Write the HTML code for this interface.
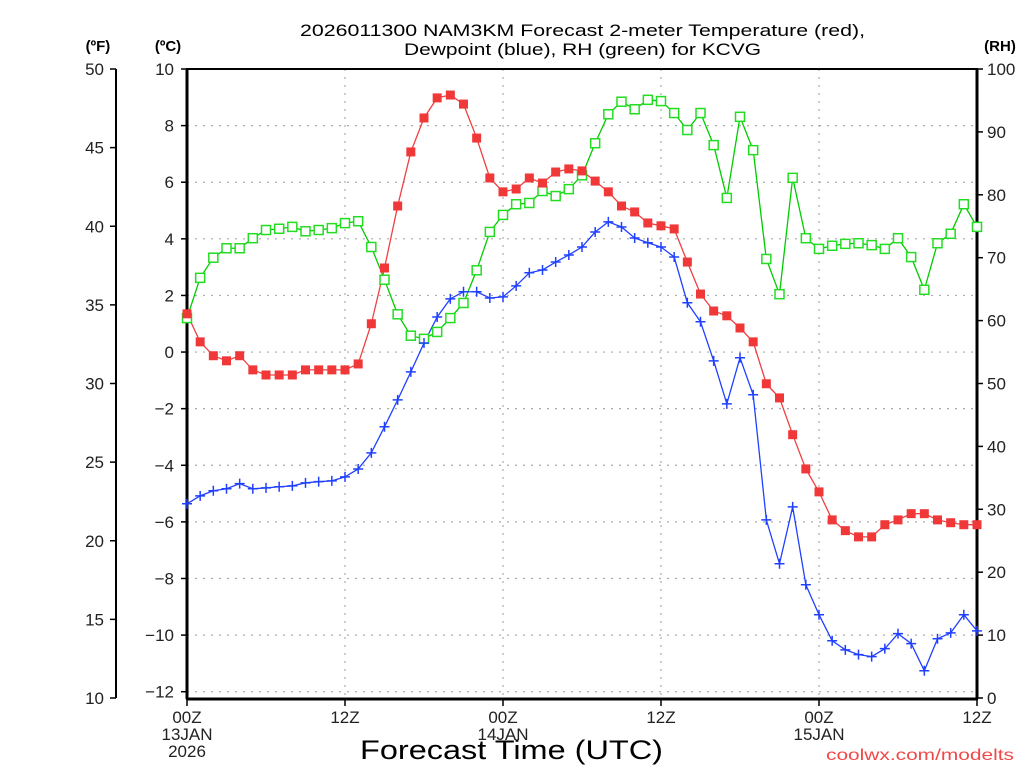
<!DOCTYPE html>
<html><head><meta charset="utf-8"><style>
html,body{margin:0;padding:0;background:#fff;}
svg{display:block;font-family:"Liberation Sans",sans-serif;}
</style></head><body>
<svg id="chart" width="1024" height="768" viewBox="0 0 1024 768" xmlns="http://www.w3.org/2000/svg">
<rect width="1024" height="768" fill="#fff"/>
<text x="300" y="36" font-size="17" fill="#000" textLength="565" lengthAdjust="spacingAndGlyphs">2026011300 NAM3KM Forecast 2-meter Temperature (red),</text>
<text x="404" y="55" font-size="17" fill="#000" textLength="357" lengthAdjust="spacingAndGlyphs">Dewpoint (blue), RH (green) for KCVG</text>
<text x="98" y="51" text-anchor="middle" font-size="15" font-weight="bold">(ºF)</text>
<text x="168" y="51" text-anchor="middle" font-size="15" font-weight="bold">(ºC)</text>
<text x="1000" y="51" text-anchor="middle" font-size="15" font-weight="bold">(RH)</text>
<g id="grid"></g>
<g id="axes"></g>
<g id="series"></g>
<text x="360" y="759" font-size="27" textLength="303" lengthAdjust="spacingAndGlyphs">Forecast Time (UTC)</text>
<text x="826" y="760" font-size="16" fill="#f04848" textLength="188" lengthAdjust="spacingAndGlyphs">coolwx.com/modelts</text>
</svg>
<script>
const hours = Array.from({length:61},(_,i)=>i);
const tempC = [1.35,0.36,-0.13,-0.31,-0.13,-0.63,-0.81,-0.81,-0.81,-0.63,-0.63,-0.63,-0.63,-0.42,1.0,2.97,5.16,7.07,8.27,8.98,9.08,8.76,7.56,6.15,5.66,5.76,6.15,5.97,6.36,6.47,6.4,6.04,5.66,5.16,4.95,4.56,4.46,4.35,3.18,2.05,1.45,1.28,0.85,0.36,-1.12,-1.62,-2.92,-4.13,-4.94,-5.93,-6.31,-6.53,-6.53,-6.1,-5.93,-5.71,-5.71,-5.93,-6.03,-6.1,-6.1];
const dewC = [-5.36,-5.08,-4.9,-4.83,-4.65,-4.83,-4.8,-4.76,-4.73,-4.62,-4.58,-4.55,-4.41,-4.13,-3.56,-2.64,-1.69,-0.7,0.32,1.24,1.88,2.13,2.13,1.91,1.95,2.34,2.8,2.9,3.18,3.43,3.71,4.24,4.6,4.42,4.03,3.86,3.71,3.36,1.74,1.07,-0.31,-1.83,-0.2,-1.51,-5.93,-7.48,-5.47,-8.22,-9.28,-10.2,-10.52,-10.69,-10.76,-10.48,-9.95,-10.3,-11.26,-10.13,-9.92,-9.28,-9.85];
const rh = [60.4,66.8,70.0,71.5,71.5,73.1,74.4,74.6,74.9,74.2,74.4,74.7,75.5,75.8,71.7,66.5,61.0,57.6,57.1,58.2,60.4,62.8,68.0,74.1,76.8,78.5,78.7,80.6,79.8,80.9,83.1,88.2,92.8,94.8,93.6,95.1,94.9,93.0,90.3,93.0,87.9,79.5,92.4,87.1,69.8,64.2,82.7,73.1,71.4,71.9,72.2,72.3,72.0,71.4,73.1,70.1,64.9,72.3,73.8,78.5,74.9];
const fTicks = [10,15,20,25,30,35,40,45,50];
const cTicks = [-12,-10,-8,-6,-4,-2,0,2,4,6,8,10];
const rhTicks = [0,10,20,30,40,50,60,70,80,90,100];
const xTicks = [0,12,24,36,48,60];
const xLabels = [["00Z","13JAN","2026"],["12Z"],["00Z","14JAN"],["12Z"],["00Z","15JAN"],["12Z"]];

const X0=187,X1=977;
const xs = h => X0 + (h/60)*(X1-X0);
const yF = f => 698 - (f-10)*629/40;
const yC = c => yF(c*9/5+32);
const yRH = r => 698 - r*6.29;
const NS="http://www.w3.org/2000/svg";
function mk(tag,attrs,parent){const e=document.createElementNS(NS,tag);for(const k in attrs)e.setAttribute(k,attrs[k]);parent.appendChild(e);return e;}
const grid=document.getElementById('grid'),axes=document.getElementById('axes'),series=document.getElementById('series');

cTicks.forEach(c=>{
  const g=mk('line',{x1:X0,x2:X1,y1:yC(c),y2:yC(c),stroke:'#aaa','stroke-width':1.2,'stroke-dasharray':'2,6'},grid);
  
  
});
xTicks.slice(1,-1).forEach(h=>{
  const g=mk('line',{x1:xs(h),x2:xs(h),y1:69,y2:699,stroke:'#aaa','stroke-width':1.2,'stroke-dasharray':'2,6'},grid);
  
  
});
const fr=mk('rect',{x:X0,y:69,width:X1-X0,height:630,fill:'none',stroke:'#000','stroke-width':2},axes);


mk('line',{x1:X0,x2:X1,y1:699,y2:699,stroke:'#000','stroke-width':3},axes);
mk('line',{x1:X0,x2:X0,y1:69,y2:699,stroke:'#000','stroke-width':3},axes);
mk('line',{x1:X1,x2:X1,y1:69,y2:699,stroke:'#000','stroke-width':3},axes);
const fa=mk('line',{x1:116,x2:116,y1:yF(50),y2:yF(10),stroke:'#000','stroke-width':2},axes);


fTicks.forEach(f=>{
  mk('line',{x1:110,x2:116,y1:yF(f),y2:yF(f),stroke:'#000','stroke-width':1.5},axes);
  const t=mk('text',{x:104,y:yF(f)+6,'text-anchor':'end','font-size':17,fill:'#222'},axes);
  t.textContent=f;
  
  
});
cTicks.forEach(c=>{
  mk('line',{x1:181,x2:187,y1:yC(c),y2:yC(c),stroke:'#000','stroke-width':1.5},axes);
  const t=mk('text',{x:174,y:yC(c)+6,'text-anchor':'end','font-size':17,fill:'#222'},axes);
  t.textContent=c<0?'\u2212'+(-c):c;
  
  
});
rhTicks.forEach(r=>{
  mk('line',{x1:977,x2:983,y1:yRH(r),y2:yRH(r),stroke:'#000','stroke-width':1.5},axes);
  const t=mk('text',{x:987,y:yRH(r)+6,'text-anchor':'start','font-size':17,fill:'#222'},axes);
  t.textContent=r;
  
  
});
xTicks.forEach((h,i)=>{
  mk('line',{x1:xs(h),x2:xs(h),y1:699,y2:706,stroke:'#000','stroke-width':1.5},axes);
  xLabels[i].forEach((s,j)=>{
    const t=mk('text',{x:xs(h),y:723+j*17,'text-anchor':'middle','font-size':17,fill:'#222'},axes);
    t.textContent=s;
    
    
  });
});
function line(vals,fy,color,name){
  const p=mk('polyline',{points:vals.map((v,i)=>xs(hours[i])+','+fy(v)).join(' '),fill:'none',stroke:color,'stroke-width':1.3},series);
  
  
}
line(rh,yRH,'#00cc00','rh-line');
line(tempC,yC,'#f04040','temperature-line');
line(dewC,yC,'#2040ff','dewpoint-line');
rh.forEach((v,i)=>{
  const m=mk('rect',{x:xs(hours[i])-4.5,y:yRH(v)-4.5,width:9,height:9,fill:'#fff',stroke:'#22dd22','stroke-width':1.5},series);
  
  
});
tempC.forEach((v,i)=>{
  const m=mk('rect',{x:xs(hours[i])-4.5,y:yC(v)-4.5,width:9,height:9,fill:'#f03838'},series);
  
  
});
dewC.forEach((v,i)=>{
  const x=xs(hours[i]),y=yC(v);
  const m=mk('path',{d:`M${x-5},${y}H${x+5}M${x},${y-5}V${y+5}`,stroke:'#2040ff','stroke-width':1.5,fill:'none'},series);
  
  
});
</script>
</body></html>
